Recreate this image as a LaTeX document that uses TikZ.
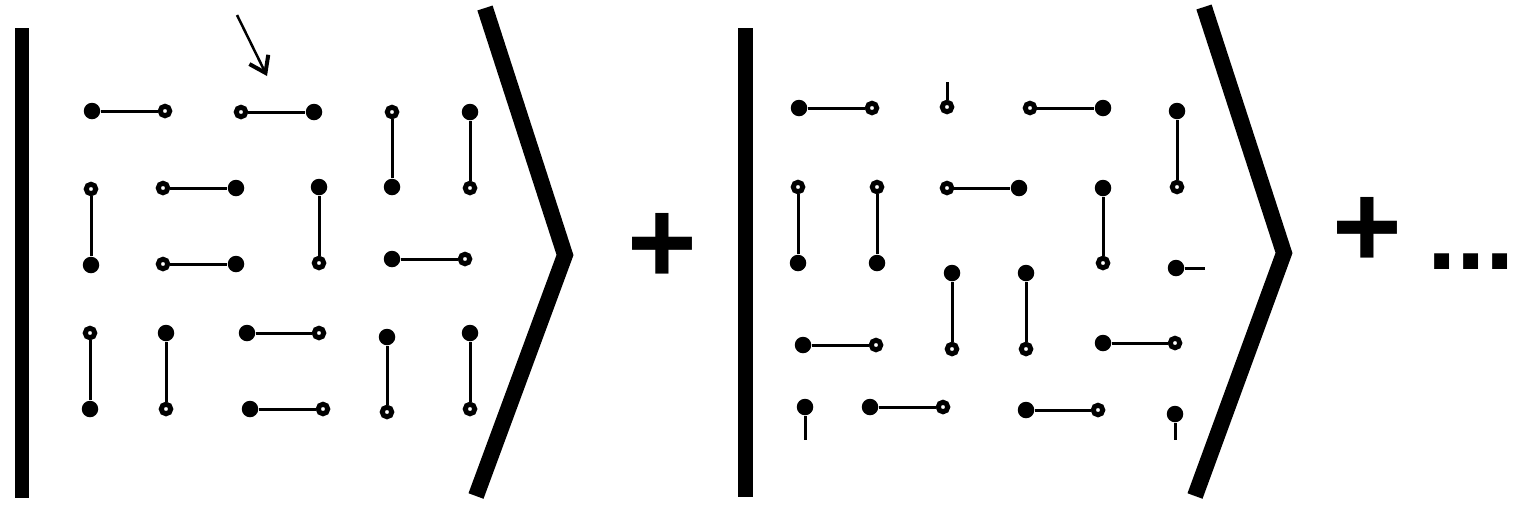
\documentclass[tikz,border=0pt]{standalone}
\usepackage{fontspec}
\setmainfont{Liberation Sans}
\usetikzlibrary{arrows.meta}

\begin{document}
\begin{tikzpicture}[x=0.02cm,y=-0.02cm,
  full/.style={circle,fill=black,inner sep=0pt,minimum size=0.33cm},
  hollow/.style={circle,draw=black,fill=white,line width=0.1cm,inner sep=0pt,minimum size=0.19cm},
  bond/.style={line width=0.06cm},
  barline/.style={line width=0.3cm},
  ketline/.style={line width=0.32cm,line join=miter},
  sign/.style={font=\fontsize{68}{68}\selectfont\bfseries,inner sep=0pt},
  pointer/.style={line width=0.05cm,-{Straight Barb[length=0.3cm,width=0.42cm,line width=0.08cm]}}]
  \useasboundingbox (0,0) rectangle (1513,505);

  % first state
  \coordinate (barAtop) at (22,28);
  \coordinate (barAbot) at (22,498);
  \coordinate (ketAtop) at (485,8);
  \coordinate (ketAtip) at (565,255);
  \coordinate (ketAbot) at (476,496);
  \draw[barline] (barAtop) -- (barAbot);
  \draw[ketline] (ketAtop) -- (ketAtip) -- (ketAbot);

  \foreach \n/\ta/\xa/\ya/\tb/\xb/\yb in {
      a1/full/92/111/hollow/165/111, a2/hollow/241/112/full/314/112,
      a3/hollow/392/112/full/392/187, a4/full/470/112/hollow/470/188,
      a5/hollow/91/189/full/91/265, a6/hollow/163/188/full/236/188,
      a7/full/319/187/hollow/319/263, a8/hollow/163/264/full/236/264,
      a9/full/392/259/hollow/465/259, a10/hollow/90/333/full/90/409,
      a11/full/166/333/hollow/166/409, a12/full/247/333/hollow/319/333,
      a13/full/250/409/hollow/323/409, a14/full/387/337/hollow/387/412,
      a15/full/470/333/hollow/470/409}{
    \node[\ta] (\n-1) at (\xa,\ya) {};
    \node[\tb] (\n-2) at (\xb,\yb) {};
    \draw[bond] (\n-1) -- (\n-2);
  }

  % arrow to the flipped pair
  \coordinate (flipTail) at (237,15);
  \coordinate (flipTip) at (267,76);
  \draw[pointer] (flipTail) -- (flipTip);

  \node[sign] (plusA) at (662,248) {+};

  % second state
  \coordinate (barBtop) at (745,28);
  \coordinate (barBbot) at (745,497);
  \coordinate (ketBtop) at (1204,7);
  \coordinate (ketBtip) at (1284,253);
  \coordinate (ketBbot) at (1195,496);
  \draw[barline] (barBtop) -- (barBbot);
  \draw[ketline] (ketBtop) -- (ketBtip) -- (ketBbot);

  \foreach \n/\ta/\xa/\ya/\tb/\xb/\yb in {
      b1/full/799/108/hollow/872/108, b2/hollow/1030/108/full/1103/108,
      b3/full/1177/111/hollow/1177/187, b4/hollow/798/187/full/798/263,
      b5/hollow/877/187/full/877/263, b6/hollow/947/188/full/1019/188,
      b7/full/1103/188/hollow/1103/263, b8/full/952/273/hollow/952/349,
      b9/full/1026/273/hollow/1026/349, b10/full/803/345/hollow/876/345,
      b11/full/1103/343/hollow/1175/343, b12/full/870/407/hollow/943/407,
      b13/full/1026/410/hollow/1098/410}{
    \node[\ta] (\n-1) at (\xa,\ya) {};
    \node[\tb] (\n-2) at (\xb,\yb) {};
    \draw[bond] (\n-1) -- (\n-2);
  }

  % bonds leaving the frame
  \foreach \n/\t/\x/\y/\ex/\ey in {
      s1/hollow/947/107/947/82, s2/full/1176/268/1205/268,
      s3/full/805/407/805/440, s4/full/1175/414/1175/440}{
    \node[\t] (\n) at (\x,\y) {};
    \coordinate (\n-end) at (\ex,\ey);
    \draw[bond] (\n) -- (\n-end);
  }

  \node[sign] (plusB) at (1367,232) {+};
  \node[sign,font=\fontsize{60}{60}\selectfont\bfseries] (etc) at (1471,262) {...};
\end{tikzpicture}
\end{document}
